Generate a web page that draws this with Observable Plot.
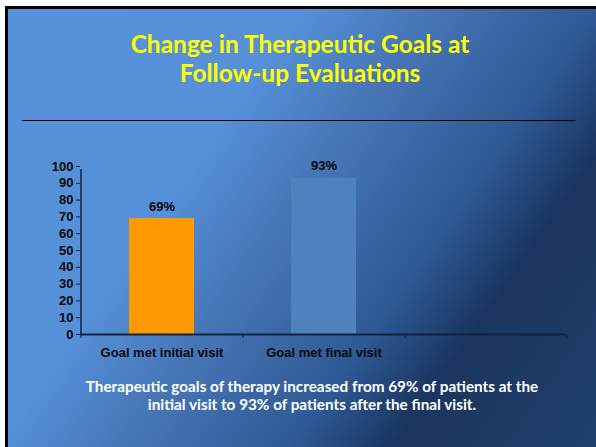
<!DOCTYPE html>
<html>
<head>
<meta charset="utf-8">
<script src="https://cdn.jsdelivr.net/npm/d3@7"></script>
<script src="https://cdn.jsdelivr.net/npm/@observablehq/plot@0.6"></script>
<style>
  html, body { margin: 0; padding: 0; background: #fff; }
  #page { position: relative; width: 596px; height: 447px; overflow: hidden; background: #fff; }
  #slide {
    position: absolute; left: 5px; top: 6px; width: 588px; height: 441px;
    border-left: 3px solid #000; border-top: 3px solid #000; border-right: 2px solid #0d1a30;
    background: linear-gradient(125deg, #5691d9 0%, #5590d8 33%, #4877b9 46%, #3a66a3 57%, #2d5994 66%, #1a3560 77%, #21406c 100%);
  }
  #title {
    position: absolute; left: 2px; top: 29px; width: 596px; text-align: center;
    font-family: Lato, "Open Sans", sans-serif; font-weight: 700; font-size: 24.5px; line-height: 29px;
    color: #ffff00;
  }
  #sep { position: absolute; left: 22px; top: 120px; width: 553px; height: 1px; background: #000; }
  #chart { position: absolute; left: 0; top: 150px; }
  #caption {
    position: absolute; left: 14px; top: 377px; width: 596px; text-align: center;
    font-family: Lato, "Open Sans", sans-serif; font-weight: 700; font-size: 15.3px; line-height: 18px;
    color: #ffffff;
  }
</style>
</head>
<body>
<div id="page">
  <div id="slide"></div>
  <div id="title">Change in Therapeutic Goals at<br>Follow-up Evaluations</div>
  <div id="sep"></div>
  <div id="chart"></div>
  <div id="caption">Therapeutic goals of therapy increased from 69% of patients at the<br>initial visit to 93% of patients after the final visit.</div>
</div>
<script>
const categories = ["Goal met initial visit", "Goal met final visit"];
const values = [69, 93];
const valueLabels = ["69%", "93%"];
const barColors = ["#ff9900", "#4f81bd"];
const emptySlot = " ";
const yTicks = [0, 10, 20, 30, 40, 50, 60, 70, 80, 90, 100];

const slots = [...categories, emptySlot];
const data = categories.map((c, i) => ({category: c, value: values[i], label: valueLabels[i], color: barColors[i]}));

const W = 596, H = 220, mL = 80, mR = 30, mT = 16, mB = 36;
const step = (W - mL - mR) / slots.length;
const axisColor = "#15223a";
const font = "'Liberation Sans', Arial, sans-serif";

const chart = Plot.plot({
  width: W, height: H,
  marginLeft: mL, marginRight: mR, marginTop: mT, marginBottom: mB,
  style: {background: "transparent", fontFamily: font, fontSize: "13px", fontWeight: "bold", color: "#0a0a0a", overflow: "visible"},
  x: {domain: slots, paddingInner: 0.6, paddingOuter: 0.3},
  y: {domain: [0, 100]},
  marks: [
    Plot.barY(data, {x: "category", y: "value", fill: "color"}),
    Plot.text(data, {x: "category", y: "value", text: "label", dy: -12, fill: "#0a0a0a", fontWeight: "bold", fontSize: 13}),
    Plot.ruleY([0], {stroke: axisColor, strokeWidth: 2}),
    Plot.ruleX([0], {x: () => slots[0], dx: -step / 2, y1: 0, y2: 100, stroke: axisColor, strokeWidth: 1.5, insetBottom: -3}),
    Plot.axisY({ticks: yTicks, tickSize: 4, tickPadding: 3, stroke: axisColor, fill: "#0a0a0a", fontWeight: "bold", fontSize: 13, label: null}),
    Plot.axisX({tickSize: 0, tickPadding: 13, fill: "#0a0a0a", fontWeight: "bold", fontSize: 13, label: null}),
    Plot.axisX({tickSize: 4, dx: -step / 2, text: null, stroke: axisColor, label: null}),
    Plot.axisX({ticks: [emptySlot], tickSize: 4, dx: step / 2, text: null, stroke: axisColor, label: null})
  ]
});
document.getElementById("chart").appendChild(chart);
</script>
</body>
</html>
